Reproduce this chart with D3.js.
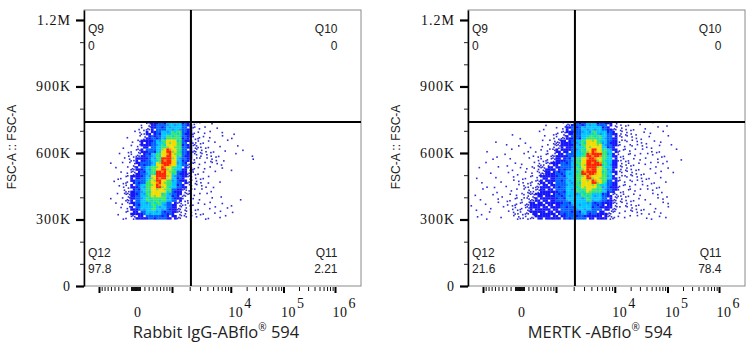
<!DOCTYPE html>
<html><head><meta charset="utf-8">
<script src="https://cdn.jsdelivr.net/npm/d3@7"></script>
<style>body{margin:0;background:#fff} svg{display:block}</style>
</head><body><svg id="c" width="754" height="350"></svg>
<script>
// ---------------- data ----------------
const samples = ["Rabbit IgG-ABflo", "MERTK -ABflo"];
const quadNames = ["Q9", "Q10", "Q11", "Q12"];
const quadValuesIgG = ["0", "0", "2.21", "97.8"];
const quadValuesMERTK = ["0", "0", "78.4", "21.6"];
const gateX = 2100;          // fluorescence gate
const gateY = 740000;        // FSC-A gate
const yTicks = [0, 300000, 600000, 900000, 1200000];
const yTickLabels = ["0", "300K", "600K", "900K", "1.2M"];
const yMinorTicks = [100000, 200000, 400000, 500000, 700000, 800000, 1000000, 1100000];
const xMajorTicks = [-1000, 1000, 10000, 100000, 1000000];
const xLabelValues = [0, 10000, 100000, 1000000];
const xLabelExp = ["", "4", "5", "6"];
// density grid: x bins in display (biex) units, y bins in FSC-A; rows from top (740K) down to 300K
const gridXStart = [-0.6, -1.0];
const gridXStep = 0.1;
const gridYTop = 740000;
const gridYStep = 20000;
const densityIgG = [
"00000001"+"34556665"+"42101000"+"00000000",
"00000012"+"34556665"+"42110100"+"00000000",
"00000112"+"44566775"+"42111010"+"01000000",
"00001012"+"45567775"+"42211010"+"10000000",
"00000124"+"45678875"+"42211101"+"00000000",
"00010124"+"45678875"+"43211010"+"01000000",
"00001134"+"55689875"+"43211101"+"00100000",
"00101234"+"56789875"+"42211110"+"01001000",
"00011244"+"56799865"+"42112101"+"00001000",
"01011245"+"56899865"+"32111110"+"00000000",
"00101345"+"67898764"+"32111010"+"10000000",
"00011345"+"67998754"+"32110100"+"00000000",
"00112445"+"68998654"+"31111000"+"00000000",
"01012455"+"78987654"+"32101010"+"00000000",
"00112456"+"78987654"+"21110100"+"00000000",
"00012456"+"78887543"+"21101000"+"00000000",
"00113456"+"78876543"+"21110010"+"00000000",
"01013456"+"77776542"+"11101000"+"00100000",
"00112456"+"67765432"+"21111010"+"10000000",
"00012456"+"67665432"+"11101101"+"00000000",
"00102445"+"66655432"+"11110110"+"10000000",
"00011344"+"55554432"+"11011011"+"00000000"
];
const densityMERTK = [
"0000000000"+"0000010013"+"4556655421"+"1101010010"+"0000",
"0000000000"+"0000100124"+"5566665432"+"1110101000"+"0000",
"0000000010"+"0001001234"+"4566766542"+"2110110100"+"0000",
"0000000000"+"1000101234"+"5567776542"+"1111010010"+"0000",
"0000010000"+"0100112344"+"5678876542"+"2111101100"+"0000",
"0000000101"+"0010112344"+"5678886542"+"1211110101"+"0000",
"0001000010"+"0101122444"+"5678987642"+"2111011100"+"1000",
"0000010100"+"1011123445"+"5679997642"+"1211110110"+"0000",
"0000100010"+"0101223445"+"6789987642"+"2111101010"+"0100",
"0001000101"+"1012234455"+"6789997642"+"1211111100"+"0000",
"0010010010"+"1122344455"+"6789987642"+"2111011010"+"0000",
"0000100101"+"0112344556"+"6799987642"+"1211101101"+"0000",
"0100010010"+"1122444556"+"6789887642"+"2111110100"+"0000",
"0010001011"+"1123444556"+"6788987542"+"1211011010"+"0000",
"0001010101"+"1223444556"+"6788876542"+"2111101100"+"0000",
"0010010011"+"1223444556"+"6778776542"+"1211110100"+"0000",
"0100101011"+"2234444556"+"6677665432"+"2111011010"+"0000",
"0010010112"+"2234444556"+"6667665432"+"1111101100"+"0000",
"1001010112"+"2344444455"+"6666554431"+"2111010110"+"0000",
"0100101012"+"2344444455"+"5666554431"+"1211101010"+"0000",
"0010100112"+"2344444455"+"5565544321"+"1111011100"+"0000",
"0101001012"+"2234444445"+"5554444321"+"1110110110"+"0000"
];
const panelData = [
  {title: samples[0], quad: quadValuesIgG, grid: densityIgG, gx0: gridXStart[0]},
  {title: samples[1], quad: quadValuesMERTK, grid: densityMERTK, gx0: gridXStart[1]}
];

// ---------------- styles / layout ----------------
const dotColor = "#2d2dd6";
const levelColors = ["", "", "", "", "#1616fa", "#0060ff", "#00c6ff", "#38e66a", "#f2dc00", "#ff2200"];
const lowerColors = ["", "", "", "", null, "#1616fa", "#1e90ff", "#00d8e0", "#7ee040", "#ff8a00"];
const panelLeft = [84, 468], panelTop = 10, panelW = 277, panelH = 276;
const serif = "'Liberation Serif', 'DejaVu Serif', serif";
const sans = "'Liberation Sans', Arial, sans-serif";

// biexponential-like display transform (decade units)
const LIN_W = 700, T1000 = 0.7087, LIN_A = T1000 / Math.asinh(1000 / LIN_W);
const logAnch = [[3, T1000], [4, 1.85], [5, 2.874], [6, 3.874]];
function T(v) {
  const a = Math.abs(v), s = Math.sign(v);
  if (a <= 1000) return LIN_A * Math.asinh(v / LIN_W);
  const l = Math.log10(a);
  let t;
  if (l >= 6) t = 3.874 + (l - 6);
  else {
    let i = 0; while (i < logAnch.length - 2 && l > logAnch[i + 1][0]) i++;
    const [l0, t0] = logAnch[i], [l1, t1] = logAnch[i + 1];
    t = t0 + (l - l0) / (l1 - l0) * (t1 - t0);
  }
  return s * t;
}
const xDomain = [-1.0, -1.0 + panelW / 51.5];
const xMinorTicks = [];
[1, 10, 100].forEach(d => { for (let k = 1; k <= 9; k++) xMinorTicks.push(k * d, -k * d); });
[1000, 10000, 100000].forEach(d => { for (let k = 2; k <= 9; k++) xMinorTicks.push(k * d); });
const xMinorT = xMinorTicks.map(T).filter(t => t > xDomain[0] + 0.01 && t < xDomain[1]);

const svg = d3.select("#c");
const dotOff = [[.2, .3], [.7, .72], [.5, .15], [.15, .78], [.86, .4], [.42, .56], [.64, .92], [.9, .12]];
const sub = [[0, 0], [0.5, 0], [0, 0.5], [0.5, 0.5]];

panelData.forEach((p, pi) => {
  const L = panelLeft[pi];
  const xs = d3.scaleLinear().domain(xDomain).range([L, L + panelW]);
  const ys = d3.scaleLinear().domain([0, 1245000]).range([panelTop + panelH, panelTop]);
  const g = svg.append("g");

  g.append("rect").attr("x", L).attr("y", panelTop).attr("width", panelW).attr("height", panelH)
    .attr("fill", "#fff").attr("stroke", "#8a8a8a").attr("stroke-width", 1);

  // density cells
  const cells = [], dots = [];
  p.grid.forEach((row, r) => {
    for (let c = 0; c < row.length; c++) {
      const lv = +row[c];
      if (!lv) continue;
      const x0 = xs(p.gx0 + c * gridXStep), x1 = xs(p.gx0 + (c + 1) * gridXStep);
      const y0 = ys(gridYTop - r * gridYStep), y1 = ys(gridYTop - (r + 1) * gridYStep);
      const w = x1 - x0, h = y1 - y0;
      if (lv >= 4) {
        sub.forEach((s, k) => {
          const pat = (r * 2 + c * 3 + k * 2) % 5;
          const col = pat === 0 ? lowerColors[lv] : levelColors[lv];
          if (col) cells.push({x: x0 + s[0] * w, y: y0 + s[1] * h, w: w / 2, h: h / 2, col});
        });
      } else {
        const n = lv === 1 ? 1 : lv === 2 ? 2 : 4;
        const off = (r * 3 + c * 5) % 8;
        for (let k = 0; k < n; k++) {
          const pp = dotOff[(off + k * 2) % 8];
          dots.push({x: x0 + pp[0] * w, y: y0 + pp[1] * h});
        }
      }
    }
  });
  g.append("g").selectAll("rect").data(dots).join("rect")
    .attr("x", d => d.x - 0.8).attr("y", d => d.y - 0.8).attr("width", 1.6).attr("height", 1.6)
    .attr("fill", dotColor);
  g.append("g").selectAll("rect").data(cells).join("rect")
    .attr("x", d => d.x - 0.1).attr("y", d => d.y - 0.1).attr("width", d => d.w + 0.2).attr("height", d => d.h + 0.2)
    .attr("fill", d => d.col);

  // gates
  const gx = xs(T(gateX)), gy = ys(gateY);
  g.append("line").attr("x1", L).attr("x2", L + panelW).attr("y1", gy).attr("y2", gy).attr("stroke", "#000").attr("stroke-width", 2);
  g.append("line").attr("x1", gx).attr("x2", gx).attr("y1", panelTop).attr("y2", panelTop + panelH).attr("stroke", "#000").attr("stroke-width", 2);

  // y axis
  const ya = g.append("g").attr("transform", `translate(${L},0)`)
    .call(d3.axisLeft(ys).tickValues(yTicks).tickFormat((d, i) => yTickLabels[i]).tickSize(8).tickSizeOuter(0).tickPadding(5));
  ya.select(".domain").attr("stroke", "#000").attr("stroke-width", 1.5);
  ya.selectAll(".tick line").attr("stroke", "#000").attr("stroke-width", 2.2);
  ya.selectAll(".tick text").attr("font-family", serif).attr("font-size", 14).attr("fill", "#111").attr("letter-spacing", 1);
  const ym = g.append("g").attr("transform", `translate(${L},0)`)
    .call(d3.axisLeft(ys).tickValues(yMinorTicks).tickFormat("").tickSize(4).tickSizeOuter(0));
  ym.select(".domain").remove();
  ym.selectAll(".tick line").attr("stroke", "#222").attr("stroke-width", 1);

  // x axis
  const xb = panelTop + panelH + 1;
  const xm = g.append("g").attr("transform", `translate(0,${xb})`)
    .call(d3.axisBottom(xs).tickValues(xMinorT).tickFormat("").tickSize(4).tickSizeOuter(0));
  xm.select(".domain").remove();
  xm.selectAll(".tick line").attr("stroke", "#111").attr("stroke-width", 1);
  const xM = g.append("g").attr("transform", `translate(0,${xb})`)
    .call(d3.axisBottom(xs).tickValues(xMajorTicks.map(T)).tickFormat("").tickSize(6).tickSizeOuter(0));
  xM.select(".domain").remove();
  xM.selectAll(".tick line").attr("stroke", "#000").attr("stroke-width", 2);

  xLabelValues.forEach((v, i) => {
    const x = xs(T(v));
    const t = g.append("text").attr("y", 317).attr("font-family", serif).attr("font-size", 14).attr("fill", "#111");
    if (xLabelExp[i] === "") {
      t.attr("x", x + 2).attr("text-anchor", "middle").text("0");
    } else {
      t.attr("x", x - 2.5).attr("text-anchor", "start").attr("letter-spacing", 0.5);
      t.append("tspan").text("10");
      t.append("tspan").attr("dy", -9).attr("dx", 1).text(xLabelExp[i]);
    }
  });

  // axis titles
  const tt = g.append("text").attr("x", L + 132).attr("y", 338).attr("text-anchor", "middle")
    .attr("font-family", "'Open Sans', 'Noto Sans', sans-serif").attr("font-size", 16.5).attr("fill", "#222");
  tt.append("tspan").text(p.title);
  tt.append("tspan").attr("font-size", 10).attr("dy", -7).text("®");
  tt.append("tspan").attr("dy", 7).text(" 594");
  g.append("text").attr("transform", `translate(${L - 68},147) rotate(-90)`).attr("text-anchor", "middle")
    .attr("font-family", sans).attr("font-size", 12).attr("fill", "#222").text("FSC-A :: FSC-A");

  // quadrant labels
  const qx0 = L + 4, qx1 = L + panelW - 23.5;
  const qd = [
    {n: quadNames[0], v: p.quad[0], x: qx0, a: "start", y: 33},
    {n: quadNames[1], v: p.quad[1], x: qx1, a: "end", y: 33},
    {n: quadNames[2], v: p.quad[2], x: qx1, a: "end", y: 256.5},
    {n: quadNames[3], v: p.quad[3], x: qx0, a: "start", y: 256.5}
  ];
  qd.forEach(q => {
    g.append("text").attr("x", q.x).attr("y", q.y).attr("text-anchor", q.a).attr("font-family", sans)
      .attr("font-size", 12).attr("fill", "#222").text(q.n);
    g.append("text").attr("x", q.x).attr("y", q.y + 16.8).attr("text-anchor", q.a).attr("font-family", sans)
      .attr("font-size", 12).attr("fill", "#222").text(q.v);
  });
});
</script></body></html>
